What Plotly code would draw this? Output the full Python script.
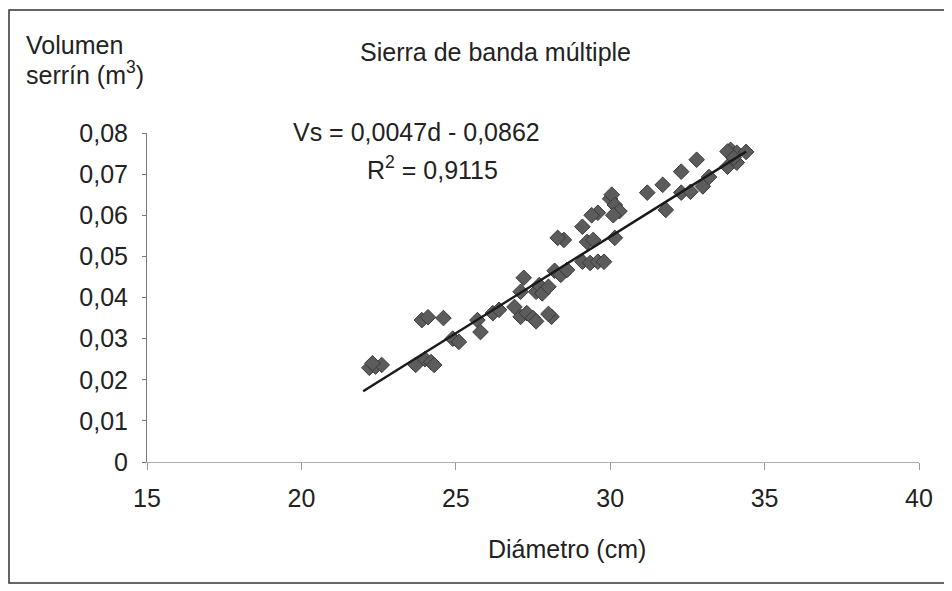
import plotly.graph_objects as go

# ---- data ----
diametro = [22.2, 22.4, 22.6, 22.3, 23.7, 24.0, 24.2, 24.3, 23.9, 24.1,
            24.6, 24.9, 25.1, 25.7, 25.8, 26.2, 26.4, 26.9, 27.1, 27.3,
            27.5, 27.6, 28.1, 28.0, 27.1, 27.2, 27.6, 27.7, 27.8, 28.0,
            28.2, 28.4, 28.6, 28.5, 28.3, 29.1, 29.1, 29.35, 29.6, 29.8,
            29.25, 29.45, 29.6, 29.4, 30.15, 30.0, 30.05, 30.15, 30.3, 30.1,
            31.2, 31.7, 31.8, 32.3, 32.8, 32.3, 32.6, 33.0, 33.2, 33.8,
            34.1, 33.9, 34.1, 34.4, 33.8, 34.0]
volumen = [0.0229, 0.0232, 0.0236, 0.0240, 0.0236, 0.0250, 0.0243, 0.0236, 0.0345, 0.0352,
           0.0350, 0.0300, 0.0292, 0.0345, 0.0316, 0.0362, 0.0370, 0.0377, 0.0353, 0.0362,
           0.0350, 0.0342, 0.0353, 0.0360, 0.0414, 0.0448, 0.0414, 0.0430, 0.0410, 0.0426,
           0.0465, 0.0455, 0.0467, 0.0540, 0.0545, 0.0572, 0.0487, 0.0484, 0.0487, 0.0487,
           0.0535, 0.0540, 0.0606, 0.0600, 0.0545, 0.0640, 0.0650, 0.0625, 0.0610, 0.0600,
           0.0655, 0.0674, 0.0613, 0.0706, 0.0735, 0.0655, 0.0657, 0.0670, 0.0693, 0.0718,
           0.0728, 0.0759, 0.0752, 0.0754, 0.0755, 0.0740]

slope = 0.0047
intercept = -0.0862
trend_x = [22.0, 34.4]
trend_y = [slope * d + intercept for d in trend_x]

x_ticks = [15, 20, 25, 30, 35, 40]
y_ticks = [0, 0.01, 0.02, 0.03, 0.04, 0.05, 0.06, 0.07, 0.08]
y_tick_labels = ["0", "0,01", "0,02", "0,03", "0,04", "0,05", "0,06", "0,07", "0,08"]

FONT = "Liberation Sans, Arial, sans-serif"
FS = 25

fig = go.Figure()
fig.add_trace(go.Scatter(
    x=diametro, y=volumen, mode="markers",
    marker=dict(symbol="diamond", size=12, color="#5c5c5c",
                line=dict(color="#3a3a3a", width=1)),
    showlegend=False, hoverinfo="skip"))
fig.add_trace(go.Scatter(
    x=trend_x, y=trend_y, mode="lines",
    line=dict(color="#1a1a1a", width=2.5),
    showlegend=False, hoverinfo="skip"))

OFF = 8  # browser body margin
W, H = 944, 583
L, R, T, B = 139, 33, 125, 129
pw, ph = W - L - R, H - T - B

def px(xw):
    return (xw - OFF - L) / pw

def py(yw):
    return (H - B - (yw - OFF)) / ph

fig.update_layout(
    width=W, height=H,
    margin=dict(l=L, r=R, t=T, b=B, autoexpand=False),
    paper_bgcolor="white", plot_bgcolor="white",
    font=dict(family=FONT, size=FS, color="#222"),
    xaxis=dict(range=[15, 40], tickvals=x_ticks, ticktext=[str(v) for v in x_ticks],
               showgrid=False, zeroline=False, showline=True, linecolor="#b0b0b0",
               linewidth=1, ticks="outside", ticklen=7, tickcolor="#999",
               ticklabelstandoff=7, tickfont=dict(size=FS, family=FONT, color="#222")),
    yaxis=dict(range=[0, 0.08], tickvals=y_ticks, ticktext=y_tick_labels,
               showgrid=False, zeroline=False, showline=True, linecolor="#777",
               linewidth=1, ticks="outside", ticklen=4, tickcolor="#777",
               ticklabelstandoff=9, tickfont=dict(size=FS, family=FONT, color="#222")),
    shapes=[dict(type="rect", xref="paper", yref="paper",
                 x0=px(9), x1=px(950), y0=py(583), y1=py(10),
                 line=dict(color="#333", width=1.5), fillcolor="rgba(0,0,0,0)")],
    annotations=[
        dict(text="Sierra de banda múltiple", xref="paper", yref="paper",
             x=px(495), y=py(52), xanchor="center", yanchor="middle",
             showarrow=False, font=dict(size=FS, family=FONT, color="#222")),
        dict(text="Volumen", xref="paper", yref="paper",
             x=px(24), y=py(45), xanchor="left", yanchor="middle",
             showarrow=False, font=dict(size=FS, family=FONT, color="#222")),
        dict(text="serrín (m<sup>3</sup>)", xref="paper", yref="paper",
             x=px(24), y=py(73), xanchor="left", yanchor="middle",
             showarrow=False, font=dict(size=FS, family=FONT, color="#222")),
        dict(text="Vs = 0,0047d - 0,0862", xref="paper", yref="paper",
             x=px(416), y=py(132), xanchor="center", yanchor="middle",
             showarrow=False, font=dict(size=FS, family=FONT, color="#222")),
        dict(text="R<sup>2</sup> = 0,9115", xref="paper", yref="paper",
             x=px(432), y=py(168), xanchor="center", yanchor="middle",
             showarrow=False, font=dict(size=FS, family=FONT, color="#222")),
        dict(text="Diámetro (cm)", xref="paper", yref="paper",
             x=px(567), y=py(549), xanchor="center", yanchor="middle",
             showarrow=False, font=dict(size=FS, family=FONT, color="#222")),
    ],
)

fig.write_html("out.html")
